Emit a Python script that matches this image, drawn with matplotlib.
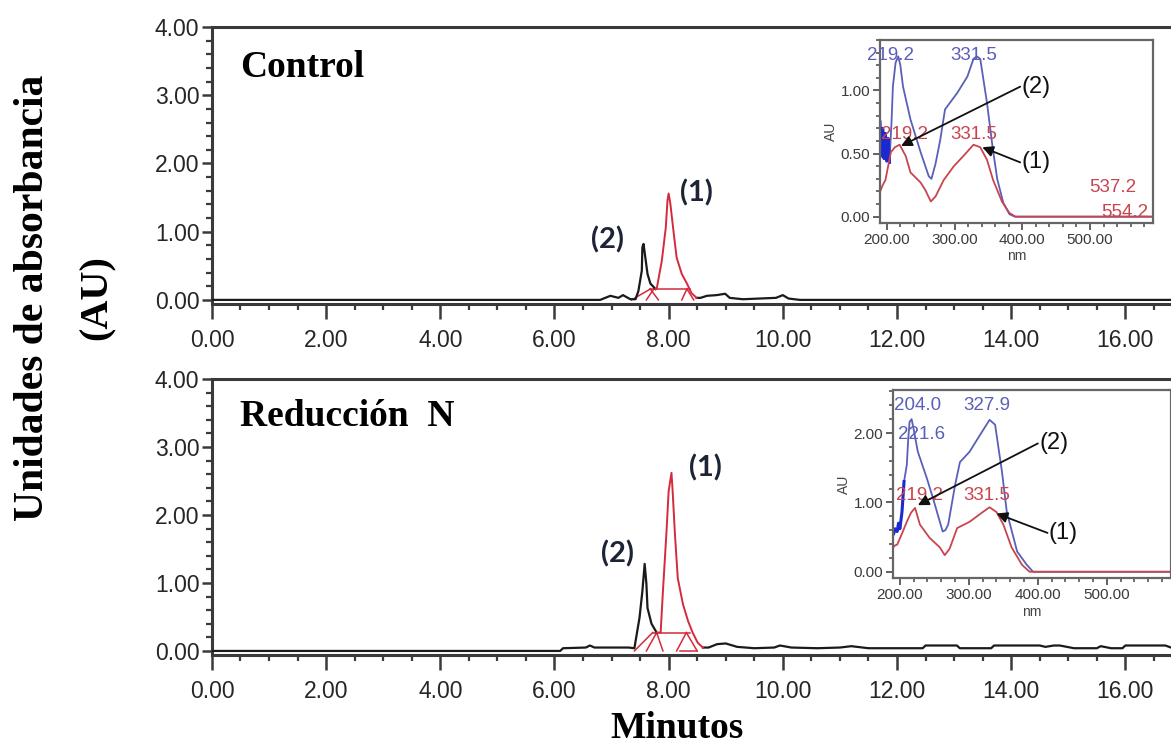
import numpy as np
import matplotlib
matplotlib.use("Agg")
import matplotlib.pyplot as plt
from matplotlib.ticker import MultipleLocator, FormatStrFormatter

# --- chromatograms (min, AU) ---
ctrl_t = [0.00, 6.80, 6.86, 6.98, 7.12, 7.20, 7.33, 7.42, 7.47, 7.53, 7.54, 7.56,
          7.60, 7.63, 7.68, 7.77, 7.79, 7.88, 7.95, 7.98, 8.00, 8.03, 8.09, 8.14,
          8.23, 8.32, 8.40, 8.49, 8.56, 8.67, 8.84, 8.99, 9.07, 9.30, 9.88, 10.00,
          10.10, 10.30, 16.80]
ctrl_au = [0.00, 0.00, 0.02, 0.06, 0.03, 0.07, 0.01, 0.01, 0.13, 0.43, 0.77, 0.82,
           0.57, 0.38, 0.24, 0.16, 0.16, 0.57, 1.06, 1.46, 1.56, 1.41, 0.97, 0.62,
           0.38, 0.24, 0.10, 0.03, 0.03, 0.06, 0.07, 0.09, 0.03, 0.01, 0.03, 0.07,
           0.02, 0.00, 0.00]
ctrl_peak1 = (7.77, 8.49)   # integrated window of peak (1)

redn_t = [0.00, 6.10, 6.15, 6.55, 6.62, 6.70, 7.30, 7.40, 7.49, 7.54, 7.58, 7.61,
          7.63, 7.70, 7.79, 7.86, 7.90, 7.96, 8.00, 8.05, 8.07, 8.11, 8.16, 8.25,
          8.34, 8.42, 8.51, 8.60, 8.70, 8.85, 9.00, 9.20, 9.50, 9.85, 9.95, 10.15,
          10.60, 11.00, 11.20, 11.50, 12.00, 12.45, 12.50, 13.05, 13.10, 13.65,
          13.70, 14.50, 14.60, 14.75, 14.85, 15.10, 15.50, 15.57, 15.75, 15.95,
          16.00, 16.70, 16.80]
redn_au = [0.00, 0.00, 0.04, 0.05, 0.08, 0.05, 0.05, 0.04, 0.49, 0.88, 1.28, 0.99,
           0.63, 0.40, 0.27, 0.27, 0.88, 1.72, 2.35, 2.62, 2.35, 1.72, 1.07, 0.69,
           0.44, 0.27, 0.12, 0.05, 0.05, 0.10, 0.11, 0.06, 0.04, 0.05, 0.08, 0.05,
           0.04, 0.05, 0.07, 0.04, 0.04, 0.04, 0.08, 0.08, 0.04, 0.04,
           0.08, 0.08, 0.06, 0.08, 0.08, 0.04, 0.04, 0.07, 0.04, 0.04,
           0.08, 0.08, 0.05]
redn_peak1 = (7.79, 8.60)

# integration baselines / drop lines (t0, au0, t1, au1)
ctrl_marks = [(7.35, 0.0, 7.68, 0.16), (7.61, 0.0, 7.74, 0.16), (7.68, 0.16, 7.82, 0.0),
              (7.68, 0.16, 8.38, 0.16), (8.23, 0.0, 8.32, 0.16), (8.32, 0.16, 8.44, 0.0)]
redn_marks = [(7.40, 0.0, 7.72, 0.27), (7.61, 0.0, 7.79, 0.27), (7.79, 0.27, 7.90, 0.0),
              (7.72, 0.27, 8.37, 0.27), (8.14, 0.0, 8.31, 0.27), (8.31, 0.27, 8.50, 0.0),
              (8.20, 0.0, 8.50, 0.0)]

# peak name labels (t, au)
ctrl_labels = {"(1)": (8.49, 1.57), "(2)": (6.93, 0.88)}
redn_labels = {"(1)": (8.65, 2.69), "(2)": (7.10, 1.43)}

# --- UV spectra of the peaks (nm, AU) ---
ctrl_nm_blue = [190, 192, 194, 196, 198, 200, 202, 204, 207, 209, 213, 217, 220, 224,
                235, 250, 262, 266, 272, 279, 286, 304, 319, 328, 333, 338, 348, 356,
                363, 372, 381, 389, 593]
ctrl_au_blue = [0.75, 0.48, 0.70, 0.46, 0.66, 0.44, 0.62, 0.43, 0.75, 1.03, 1.22, 1.27,
                1.20, 1.03, 0.77, 0.51, 0.32, 0.30, 0.42, 0.61, 0.85, 0.98, 1.11, 1.25,
                1.27, 1.25, 0.90, 0.56, 0.30, 0.11, 0.02, 0.00, 0.00]
ctrl_nm_red = [191, 194, 198, 202, 206, 212, 219, 228, 235, 250, 257, 265, 272, 284,
               299, 313, 328, 338, 348, 357, 370, 381, 390, 593]
ctrl_au_red = [0.21, 0.25, 0.29, 0.40, 0.51, 0.55, 0.57, 0.48, 0.35, 0.27, 0.21, 0.12,
               0.16, 0.29, 0.40, 0.48, 0.57, 0.55, 0.45, 0.29, 0.12, 0.03, 0.00, 0.00]

redn_nm_blue = [191, 193, 196, 198, 200, 203, 206, 210, 212, 214, 217, 220, 226, 239,
                248, 262, 266, 270, 280, 287, 301, 316, 330, 338, 348, 355, 370, 384,
                393, 593]
redn_au_blue = [0.55, 0.62, 0.58, 0.70, 0.62, 0.86, 1.30, 1.54, 1.90, 2.16, 2.20, 2.05,
                1.73, 1.35, 1.06, 0.58, 0.60, 0.68, 1.25, 1.58, 1.73, 1.97, 2.19, 2.12,
                1.44, 0.86, 0.29, 0.10, 0.00, 0.00]
redn_nm_red = [191, 193, 196, 203, 210, 216, 222, 229, 243, 258, 265, 272, 283, 301,
               320, 330, 340, 350, 362, 377, 388, 593]
redn_au_red = [0.36, 0.38, 0.39, 0.55, 0.72, 0.85, 0.92, 0.68, 0.49, 0.35, 0.24, 0.33,
               0.63, 0.72, 0.86, 0.93, 0.86, 0.68, 0.35, 0.10, 0.00, 0.00]

# spectrum annotations: (text, nm, AU, colour)
ctrl_maxima = [("219.2", 206, 1.28, "blue"), ("331.5", 328, 1.28, "blue"),
               ("219.2", 226, 0.65, "red"), ("331.5", 328, 0.65, "red"),
               ("537.2", 534, 0.23, "red"), ("554.2", 551, 0.03, "red")]
redn_maxima = [("204.0", 225, 2.40, "blue"), ("221.6", 232, 1.98, "blue"),
               ("327.9", 326, 2.40, "blue"), ("219.2", 228, 1.10, "red"),
               ("331.5", 326, 1.10, "red")]
# arrows: label, label position, arrow tip
ctrl_arrows = [("(2)", (397, 1.03), (221, 0.56)), ("(1)", (397, 0.43), (341, 0.55))]
redn_arrows = [("(2)", (400, 1.85), (226, 0.96)), ("(1)", (414, 0.56), (340, 0.84))]

BLACK = "#1a1a1a"
RED = "#d42a3c"
SPEC_BLUE = "#5a5fb8"
SPEC_RED = "#c8454f"
SANS = "Liberation Sans"
SERIF = "Liberation Serif"

fig = plt.figure(figsize=(11.71, 7.44), dpi=100)


def chromatogram(rect, t, au, window, marks, labels, title, title_y):
    ax = fig.add_axes(rect)
    t = np.asarray(t)
    au = np.asarray(au)
    lo, hi = window
    inside = (t > lo) & (t < hi)
    ax.plot(t, np.where(inside, np.nan, au), color=BLACK, lw=1.6, zorder=3)
    ax.plot(t, np.where((t >= lo) & (t <= hi), au, np.nan), color=RED, lw=1.4, zorder=4)
    for t0, a0, t1, a1 in marks:
        ax.plot([t0, t1], [a0, a1], color=RED, lw=1.1, zorder=2)
    for name, (x, y) in labels.items():
        ax.text(x, y, name, ha="center", va="center", fontsize=21, fontweight="bold",
                family="Lato", color="#1d2436")
    ax.text(0.029, title_y, title, transform=ax.transAxes, fontsize=27,
            fontweight="bold", family=SERIF, va="baseline")

    ax.set_xlim(0, 16.8)
    ax.set_ylim(-0.06, 4.0)
    ax.xaxis.set_major_locator(MultipleLocator(2))
    ax.xaxis.set_minor_locator(MultipleLocator(0.5))
    ax.yaxis.set_major_locator(MultipleLocator(1))
    ax.yaxis.set_minor_locator(MultipleLocator(0.2))
    ax.xaxis.set_major_formatter(FormatStrFormatter("%.2f"))
    ax.yaxis.set_major_formatter(FormatStrFormatter("%.2f"))
    ax.spines["right"].set_visible(False)
    for side in ("left", "top", "bottom"):
        ax.spines[side].set_color("#3a3a3a")
        ax.spines[side].set_linewidth(2.2)
    ax.tick_params(which="major", direction="out", color="#3a3a3a", width=1.8,
                   labelsize=16.5, labelcolor="#262626")
    ax.tick_params(axis="x", which="major", length=11, pad=7)
    ax.tick_params(axis="y", which="major", length=7, pad=2)
    ax.tick_params(which="minor", direction="out", color="#3a3a3a", width=1.6, length=4)
    for lab in ax.get_xticklabels() + ax.get_yticklabels():
        lab.set_family(SANS)
    return ax


def spectrum(rect, xb, yb, xr, yr, ylim, ymajor, yminor, maxima, arrows):
    ax = fig.add_axes(rect)
    ax.set_facecolor("white")
    xb = np.asarray(xb)
    yb = np.asarray(yb)
    ax.plot(xb, yb, color=SPEC_BLUE, lw=1.3)
    dense = xb <= 206
    ax.plot(xb[dense], yb[dense], color="#1a2ad0", lw=2.2)
    ax.plot(xr, yr, color=SPEC_RED, lw=1.3)
    for text, x, y, c in maxima:
        ax.text(x, y, text, ha="center", va="center", fontsize=13.5, family=SANS,
                color=SPEC_BLUE if c == "blue" else SPEC_RED)
    for name, (lx, ly), tip in arrows:
        ax.annotate("", xy=tip, xytext=(lx, ly),
                    arrowprops=dict(arrowstyle="-|>", color="#111111", lw=1.3,
                                    mutation_scale=16, shrinkA=0, shrinkB=0))
        ax.text(lx + 2, ly, name, ha="left", va="center", fontsize=17, family=SANS,
                color="#111111")
    ax.set_xlim(190, 593)
    ax.set_ylim(*ylim)
    ax.xaxis.set_major_locator(MultipleLocator(100))
    ax.xaxis.set_minor_locator(MultipleLocator(20))
    ax.yaxis.set_major_locator(MultipleLocator(ymajor))
    ax.yaxis.set_minor_locator(MultipleLocator(yminor))
    ax.xaxis.set_major_formatter(FormatStrFormatter("%.2f"))
    ax.yaxis.set_major_formatter(FormatStrFormatter("%.2f"))
    ax.set_xticks([200, 300, 400, 500])
    for side in ax.spines.values():
        side.set_color("#666666")
        side.set_linewidth(1.6)
    ax.tick_params(which="major", direction="out", length=5, width=1.3, color="#555555",
                   labelsize=11, labelcolor="#3a3a3a", pad=2)
    ax.tick_params(which="minor", direction="out", length=3, width=1.2, color="#555555")
    for lab in ax.get_xticklabels() + ax.get_yticklabels():
        lab.set_family(SANS)
    ax.set_xlabel("nm", fontsize=10, family=SANS, color="#444444", labelpad=2)
    ax.set_ylabel("AU", fontsize=10, family=SANS, color="#444444", labelpad=2)
    return ax


chromatogram([0.1810, 0.5914, 0.8190, 0.3723], ctrl_t, ctrl_au, ctrl_peak1,
             ctrl_marks, ctrl_labels, "Control", 0.82)
chromatogram([0.1810, 0.1196, 0.8190, 0.3710], redn_t, redn_au, redn_peak1,
             redn_marks, redn_labels, "Reducción  N", 0.83)

spectrum([0.7515, 0.7003, 0.2331, 0.2460], ctrl_nm_blue, ctrl_au_blue,
         ctrl_nm_red, ctrl_au_red, (-0.05, 1.40), 0.5, 0.1, ctrl_maxima, ctrl_arrows)
spectrum([0.7626, 0.2231, 0.2374, 0.2527], redn_nm_blue, redn_au_blue,
         redn_nm_red, redn_au_red, (-0.09, 2.62), 1.0, 0.2, redn_maxima, redn_arrows)

fig.text(33 / 1171, 0.60, "Unidades de absorbancia", rotation=90, ha="center",
         va="center", fontsize=30, fontweight="bold", family=SERIF)
fig.text(97 / 1171, 0.60, "(AU)", rotation=90, ha="center", va="center",
         fontsize=29, fontweight="bold", family=SERIF)
fig.text(677 / 1171, 1 - 728 / 744, "Minutos", ha="center", va="center",
         fontsize=27, fontweight="bold", family=SERIF)

fig.savefig("out.png", dpi=100)
